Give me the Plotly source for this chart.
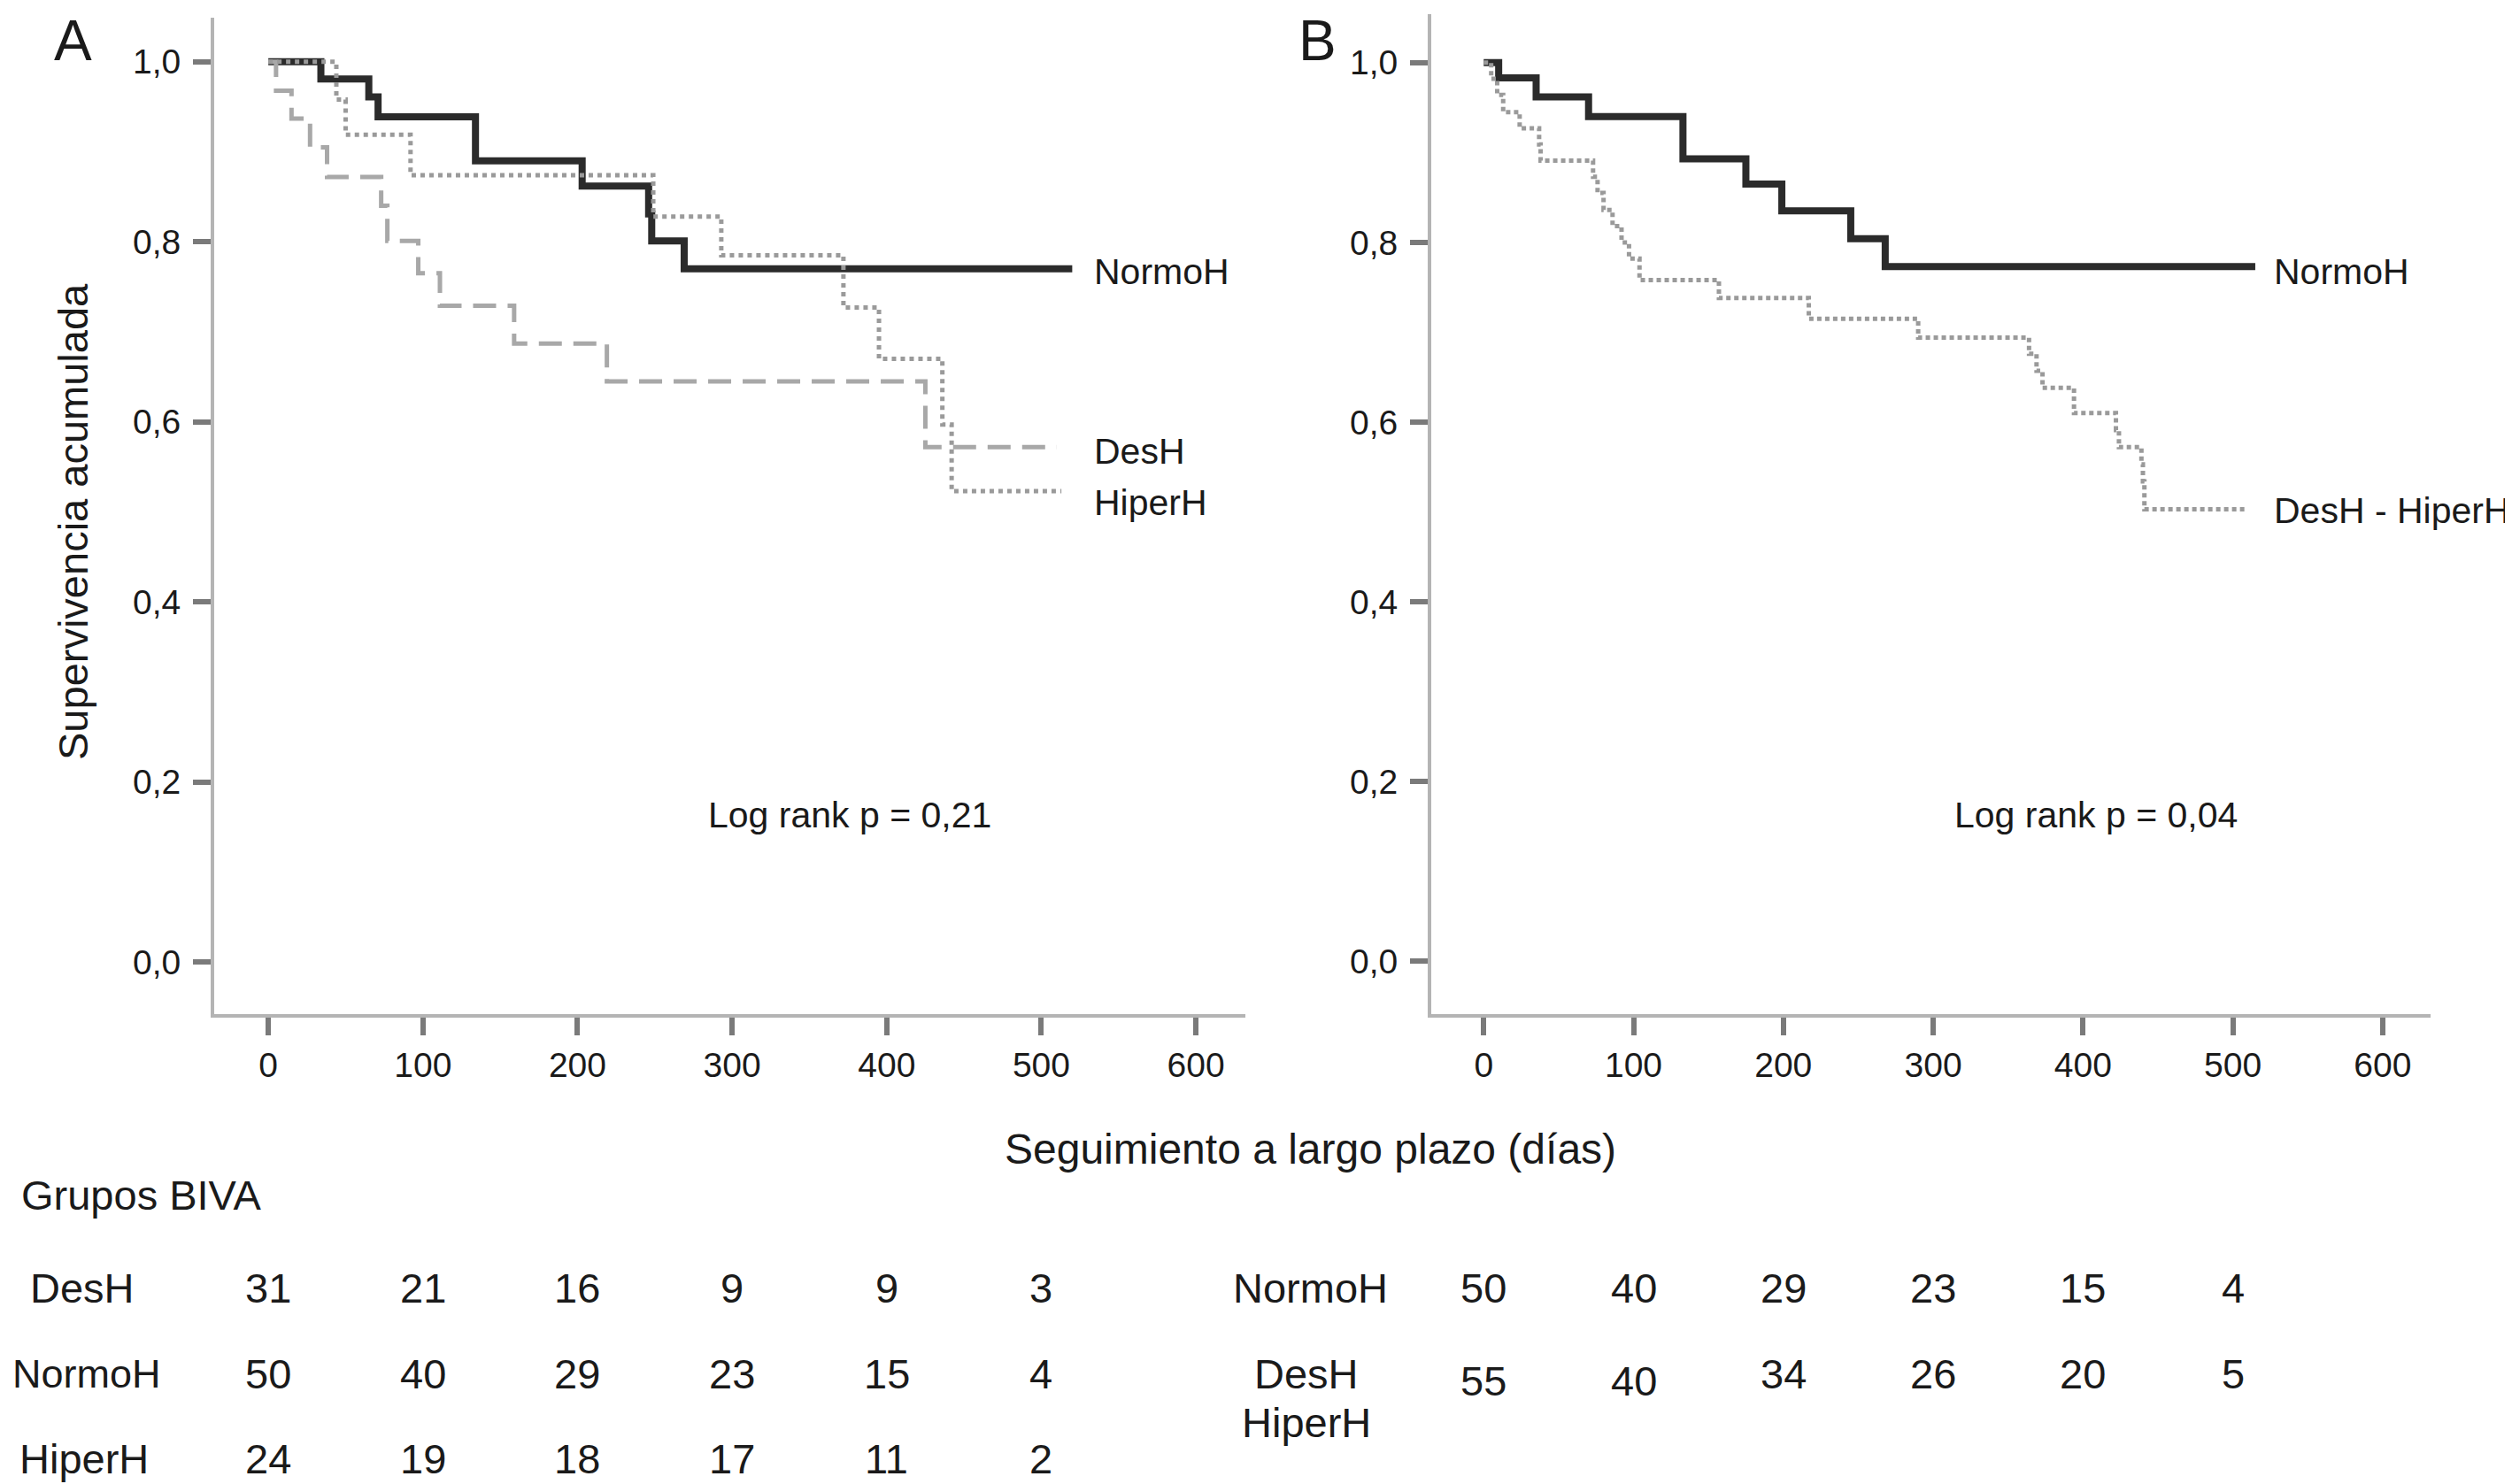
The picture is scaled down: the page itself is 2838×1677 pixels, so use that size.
import plotly.graph_objects as go

# ---------------- data ----------------
# Panel A (Grupos BIVA: DesH, NormoH, HiperH)
a_normo_t = [0, 34, 65, 71, 134, 203, 246, 248, 269, 520]
a_normo_s = [1.0, 0.981, 0.961, 0.939, 0.890, 0.862, 0.831, 0.801, 0.770, 0.770]

a_desh_t = [0, 5, 15, 27, 38, 73, 77, 97, 111, 159, 219, 425, 510]
a_desh_s = [1.0, 0.968, 0.937, 0.905, 0.872, 0.840, 0.801, 0.765, 0.729, 0.687, 0.645, 0.572, 0.572]

a_hiper_t = [0, 44, 50, 92, 249, 293, 372, 395, 436, 442, 513]
a_hiper_s = [1.0, 0.958, 0.919, 0.874, 0.828, 0.785, 0.727, 0.670, 0.597, 0.523, 0.523]

# Panel B (NormoH vs DesH - HiperH)
b_normo_t = [0, 10, 35, 70, 133, 175, 199, 245, 268, 515]
b_normo_s = [1.0, 0.983, 0.962, 0.940, 0.893, 0.865, 0.835, 0.804, 0.773, 0.773]

b_dh_t = [0, 5, 9, 13, 24, 37, 38, 73, 76, 80, 86, 92, 97, 104, 157, 217, 290,
          364, 369, 373, 394, 422, 424, 439, 440, 441, 508]
b_dh_s = [1.0, 0.982, 0.964, 0.945, 0.927, 0.909, 0.891, 0.873, 0.855, 0.836, 0.818,
          0.800, 0.782, 0.758, 0.738, 0.715, 0.694, 0.676, 0.657, 0.638, 0.610, 0.591,
          0.572, 0.553, 0.534, 0.503, 0.503]

y_tickvals = [0.0, 0.2, 0.4, 0.6, 0.8, 1.0]
y_ticktext = ["0,0", "0,2", "0,4", "0,6", "0,8", "1,0"]
x_tickvals = [0, 100, 200, 300, 400, 500, 600]

risk_times = [0, 100, 200, 300, 400, 500]
a_risk_labels = ["DesH", "NormoH", "HiperH"]
a_risk = [[31, 21, 16, 9, 9, 3],
          [50, 40, 29, 23, 15, 4],
          [24, 19, 18, 17, 11, 2]]
b_risk_labels = ["NormoH", "DesH", "HiperH"]
b_risk = [[50, 40, 29, 23, 15, 4],
          [55, 40, 34, 26, 20, 5]]

# ---------------- figure ----------------
# the page body has an 8px margin; compensate so that positions match the screen
OFF = 8
W, H = 2838 - OFF, 1677 - OFF
FONT = "Liberation Sans, Arial, Helvetica, sans-serif"
TXT = "#1a1a1a"

def px_x(p):
    return (p - OFF) / W

def px_y(p):
    return 1 - (p - OFF) / H

fig = go.Figure()

dark = "#2b2b2b"
fig.add_trace(go.Scatter(x=a_normo_t, y=a_normo_s, mode="lines", line_shape="hv",
                         line=dict(color=dark, width=8), xaxis="x", yaxis="y"))
fig.add_trace(go.Scatter(x=a_desh_t, y=a_desh_s, mode="lines", line_shape="hv",
                         line=dict(color="#a8a8a8", width=5, dash="26px,13px"),
                         xaxis="x", yaxis="y"))
fig.add_trace(go.Scatter(x=a_hiper_t, y=a_hiper_s, mode="lines", line_shape="hv",
                         line=dict(color="#9a9a9a", width=5, dash="5px,5px"),
                         xaxis="x", yaxis="y"))
fig.add_trace(go.Scatter(x=b_normo_t, y=b_normo_s, mode="lines", line_shape="hv",
                         line=dict(color=dark, width=8), xaxis="x2", yaxis="y2"))
fig.add_trace(go.Scatter(x=b_dh_t, y=b_dh_s, mode="lines", line_shape="hv",
                         line=dict(color="#9a9a9a", width=5, dash="5px,4px"),
                         xaxis="x2", yaxis="y2"))

axis_common = dict(showline=True, linecolor="#b4b4b4", linewidth=4, showgrid=False,
                   zeroline=False, ticks="outside", ticklen=20, tickwidth=6,
                   tickcolor="#7a7a7a", tickfont=dict(family=FONT, size=39, color=TXT))
xr = [-35, 632]

fig.update_layout(
    width=W, height=H, margin=dict(l=0, r=0, t=0, b=0),
    paper_bgcolor="white", plot_bgcolor="white", showlegend=False,
    xaxis=dict(domain=[px_x(242), px_x(1407)], range=xr, tickvals=x_tickvals,
               anchor="y", **axis_common),
    yaxis=dict(domain=[px_y(1146), px_y(20)], range=[-0.058, 1.049], tickvals=y_tickvals,
               ticktext=y_ticktext, anchor="x", ticklabelstandoff=6, **axis_common),
    xaxis2=dict(domain=[px_x(1617), px_x(2746)], range=xr, tickvals=x_tickvals,
                anchor="y2", **axis_common),
    yaxis2=dict(domain=[px_y(1146), px_y(16)], range=[-0.059, 1.054], tickvals=y_tickvals,
                ticktext=y_ticktext, anchor="x2", ticklabelstandoff=6, **axis_common),
)

ann = []

def text(x, y, s, size, xanchor="center", yanchor="middle", xref="paper", angle=0):
    ann.append(dict(x=x, y=y, xref=xref, yref="paper", text=s, showarrow=False,
                    xanchor=xanchor, yanchor=yanchor, textangle=angle,
                    font=dict(family=FONT, size=size, color=TXT)))

# panel letters (anchored at the top edge so they are not clipped)
text(px_x(82), px_y(OFF), "A", 64, yanchor="top")
text(px_x(1488), px_y(OFF), "B", 64, yanchor="top")

# y axis title
text(px_x(82), px_y(590), "Supervivencia acumulada", 47, angle=-90)

# curve labels
text(px_x(1234), px_y(307), "NormoH", 41, xanchor="left")
text(px_x(1234), px_y(510), "DesH", 41, xanchor="left")
text(px_x(1234), px_y(568), "HiperH", 41, xanchor="left")
text(px_x(2567), px_y(307), "NormoH", 41, xanchor="left")
text(px_x(2567), px_y(577), "DesH - HiperH", 41, xanchor="left")

# log rank
text(px_x(960), px_y(921), "Log rank p = 0,21", 41)
text(px_x(2368), px_y(921), "Log rank p = 0,04", 41)

# x axis title and risk table
text(px_x(1480), px_y(1298), "Seguimiento a largo plazo (días)", 48)
text(px_x(22), px_y(1350), "Grupos BIVA", 47, xanchor="left")

a_rows_y = [1455, 1552, 1648]
a_label_x = [93, 98, 95]
a_label_size = [47, 45, 47]
for i, lab in enumerate(a_risk_labels):
    text(px_x(a_label_x[i]), px_y(a_rows_y[i]), lab, a_label_size[i])
    for t, n in zip(risk_times, a_risk[i]):
        text(t, px_y(a_rows_y[i]), str(n), 47, xref="x")

b_label_pos = [(1480, 1455), (1476, 1552), (1476, 1607)]
for lab, (lx, ly) in zip(b_risk_labels, b_label_pos):
    text(px_x(lx), px_y(ly), lab, 47)
b_rows_y = [[1455] * 6, [1560, 1560, 1552, 1552, 1552, 1552]]
for i in range(2):
    for j, (t, n) in enumerate(zip(risk_times, b_risk[i])):
        text(t, px_y(b_rows_y[i][j]), str(n), 47, xref="x2")

fig.update_layout(annotations=ann)
fig.write_html("out.html")
